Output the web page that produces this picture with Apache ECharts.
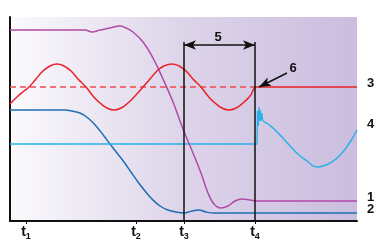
<!DOCTYPE html>
<html>
<head>
<meta charset="utf-8">
<script src="https://cdn.jsdelivr.net/npm/echarts@6/dist/echarts.min.js"></script>
<style>
  html, body { margin: 0; padding: 0; background: #fff; }
  #chart { width: 378px; height: 242px; }
</style>
</head>
<body>
<div id="chart"></div>
<script>
// time axis 0..347, signal axis 0..203 (arbitrary units)
var timeTicks = [16, 126, 174, 245];
var tickNames = ['1', '2', '3', '4'];
var t3 = 174, t4 = 245;
var markerTop = 179;
var arrowLevel = 176;

var setpoint = 134;
var setpointDashed = [[0, 134], [245, 134]];

// curve 3 (red): oscillation until t4, then steady
var curve3 = [
  [0, 117], [7, 124], [14, 130], [19, 134], [26, 142], [33, 150], [40, 155], [47, 157],
  [54, 155], [61, 150], [68, 142], [76, 134], [83, 125], [90, 118], [97, 113], [104, 111],
  [111, 113], [118, 118], [125, 125], [133, 134], [140, 142], [147, 150], [154, 155], [162, 157],
  [169, 155], [176, 150], [183, 142], [191, 134], [198, 125], [205, 118], [212, 113], [219, 111],
  [226, 113], [233, 118], [240, 125], [247, 134], [260, 134], [347, 134]
];

// curve 1 (purple)
var curve1 = [
  [0, 191], [75, 191], [82, 189], [90, 191], [100, 193], [110, 195], [116, 193], [123, 189],
  [133, 179], [143, 163], [153, 142], [163, 119], [173, 92], [183, 68], [191, 48], [198, 28],
  [204, 17], [211, 13], [218, 15], [225, 20], [232, 22], [240, 21], [248, 20], [260, 20], [347, 20]
];

// curve 2 (dark blue)
var curve2 = [
  [0, 111], [55, 111], [62, 110], [70, 108], [78, 103], [86, 95], [94, 85], [100, 77],
  [107, 68], [114, 59], [121, 49], [128, 39], [135, 30], [142, 22], [150, 15], [158, 11],
  [166, 9], [174, 8], [182, 10], [189, 11], [196, 9], [204, 8], [220, 8], [347, 8]
];

// curve 4 (light blue): flat, spike at t4, then swing
var curve4Head = [
  [0, 77], [247, 77], [247.5, 110], [248.3, 95], [249, 114], [249.6, 100], [250.2, 111],
  [251, 100], [251.8, 108], [252.6, 101], [254, 99]
];
var curve4Tail = [
  [254, 99], [258, 97], [263, 93], [272, 84], [280, 75], [289, 66], [297, 60], [307, 54],
  [316, 56], [326, 62], [336, 73], [347, 91]
];

var chart = echarts.init(document.getElementById('chart'), null, { renderer: 'canvas' });

var lbl = { fontFamily: 'Liberation Sans', fontWeight: 'bold', fontSize: 13, color: '#111' };

var option = {
  animation: false,
  grid: {
    left: 10, top: 17, width: 347, height: 204,
    show: true,
    borderWidth: 0,
    backgroundColor: new echarts.graphic.LinearGradient(0, 0, 1, 0, [
      { offset: 0, color: '#fbfafd' },
      { offset: 0.5, color: '#ddd4e9' },
      { offset: 1, color: '#cbbddf' }
    ])
  },
  xAxis: {
    type: 'value', min: 0, max: 347,
    splitLine: { show: false },
    axisLine: { show: true, onZero: false, lineStyle: { color: '#111', width: 2 } },
    axisTick: { show: true, customValues: timeTicks, length: 3, lineStyle: { color: '#111' } },
    axisLabel: {
      customValues: timeTicks,
      margin: 3,
      formatter: function (v) {
        return '{a|t}{b|' + tickNames[timeTicks.indexOf(v)] + '}';
      },
      rich: {
        a: { fontFamily: 'Liberation Sans', fontWeight: 'bold', fontSize: 14, color: '#111' },
        b: { fontFamily: 'Liberation Sans', fontWeight: 'bold', fontSize: 9, color: '#111', padding: [8, 0, 0, 0] }
      }
    }
  },
  yAxis: {
    type: 'value', min: 0, max: 204,
    splitLine: { show: false },
    axisLine: { show: true, onZero: false, lineStyle: { color: '#111', width: 2 } },
    axisTick: { show: false },
    axisLabel: { show: false }
  },
  series: [
    {
      type: 'line', data: setpointDashed, showSymbol: false, silent: true,
      lineStyle: { color: '#ef4b4b', width: 1.5, type: [6, 4] }
    },
    {
      type: 'line', data: curve2, smooth: 0.4, showSymbol: false, silent: true,
      lineStyle: { color: '#1f6db3', width: 1.5 },
      endLabel: Object.assign({ show: true, formatter: '2', offset: [2, -4] }, lbl)
    },
    {
      type: 'line', data: curve4Head, showSymbol: false, silent: true,
      lineStyle: { color: '#26b2e8', width: 1.3 }
    },
    {
      type: 'line', data: curve4Tail, smooth: 0.5, showSymbol: false, silent: true,
      lineStyle: { color: '#26b2e8', width: 1.5 },
      endLabel: Object.assign({ show: true, formatter: '4', offset: [2, -6] }, lbl)
    },
    {
      type: 'line', data: curve1, smooth: 0.4, showSymbol: false, silent: true,
      lineStyle: { color: '#b04aa6', width: 1.5 },
      endLabel: Object.assign({ show: true, formatter: '1', offset: [2, -4] }, lbl)
    },
    {
      type: 'line', data: curve3, smooth: 0.5, showSymbol: false, silent: true,
      lineStyle: { color: '#e8222a', width: 1.5 },
      endLabel: Object.assign({ show: true, formatter: '3', offset: [2, -4] }, lbl)
    },
    {
      // markers t3/t4, interval arrow 5, pointer 6
      type: 'line', data: [], silent: true,
      markLine: {
        silent: true,
        animation: false,
        symbol: 'none',
        label: { show: false },
        lineStyle: { color: '#111', width: 1.5, type: 'solid' },
        data: [
          [{ coord: [t3, 0] }, { coord: [t3, markerTop] }],
          [{ coord: [t4, 0] }, { coord: [t4, markerTop] }],
          [{ coord: [t3, arrowLevel], symbol: 'arrow', symbolSize: [7, 12] },
           { coord: [t4, arrowLevel], symbol: 'arrow', symbolSize: [7, 12] }],
          [{ coord: [277, 148], symbol: 'none' },
           { coord: [249, 134], symbol: 'arrow', symbolSize: [7, 12] }]
        ]
      },
      markPoint: {
        silent: true,
        symbol: 'circle', symbolSize: 1,
        itemStyle: { color: 'rgba(0,0,0,0)' },
        label: Object.assign({ show: true, position: 'inside' }, lbl),
        data: [
          { coord: [208, 184], value: '5' },
          { coord: [283, 153], value: '6' }
        ]
      }
    }
  ]
};

chart.setOption(option);
</script>
</body>
</html>
